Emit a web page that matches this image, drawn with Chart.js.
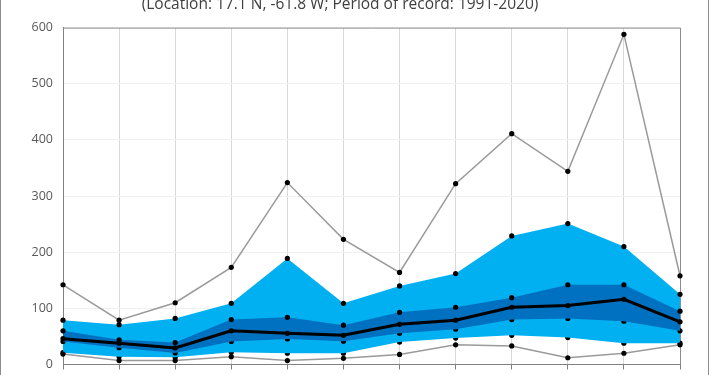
<!DOCTYPE html>
<html>
<head>
<meta charset="utf-8">
<script src="https://cdn.jsdelivr.net/npm/chart.js@4.4.1/dist/chart.umd.min.js"></script>
<style>
  html, body { margin: 0; padding: 0; background: #fff; overflow: hidden; height: 375px; }
  #wrap { position: absolute; left: 0; top: -5px; width: 710px; height: 387px; }
  #frame { position: absolute; left: 0; top: 0; width: 707px; height: 375px;
           border-left: 1px solid #8c8c8c; border-right: 1px solid #8c8c8c; pointer-events: none; }
</style>
</head>
<body>
<div id="wrap"><canvas id="rain-chart"></canvas></div>
<div id="frame"></div>
<script>
/*************************  Data  *************************/
var titleText = '(Location: 17.1 N, -61.8 W; Period of record: 1991-2020)';
var months = ['Jan', 'Feb', 'Mar', 'Apr', 'May', 'Jun', 'Jul', 'Aug', 'Sep', 'Oct', 'Nov', 'Dec'];
var yTicks = [0, 100, 200, 300, 400, 500, 600];

var maxValues    = [142, 79, 110, 173, 324, 223, 164, 322, 411, 344, 588, 158];
var p90Values    = [79, 71, 82, 109, 189, 109, 140, 162, 229, 251, 210, 125];
var p75Values    = [60, 44, 39, 80, 84, 70, 93, 102, 119, 142, 142, 95];
var medianValues = [46, 38, 29.5, 60, 55.5, 52, 71.5, 79, 102, 105, 116, 76];
var p25Values    = [41, 30, 20.5, 41, 45.5, 41.5, 55.5, 63, 80, 82, 77, 60];
var p10Values    = [21, 14, 13, 22, 20, 20, 40, 47, 52, 48, 38, 38];
var minValues    = [18.5, 7, 7, 14, 7, 11, 18, 35, 33, 12, 20, 35];

/*****************************  Chart  *******************************/
var lightBlue = '#00b0f0', darkBlue = '#0070c0', grey = '#9a9a9a';

function series(label, data, extra) {
    var ds = {
        label: label,
        data: data,
        borderColor: 'rgba(0,0,0,0)',
        borderWidth: 0,
        backgroundColor: 'rgba(0,0,0,0)',
        pointRadius: 2.6,
        pointBackgroundColor: '#000',
        pointBorderWidth: 0,
        fill: false,
        tension: 0
    };
    for (var k in extra) ds[k] = extra[k];
    return ds;
}

// draws the top and right edges of the plot area
var plotFrame = {
    id: 'plotFrame',
    beforeDatasetsDraw: function(chart) {
        var a = chart.chartArea, ctx = chart.ctx;
        ctx.save();
        ctx.strokeStyle = '#8c8c8c';
        ctx.lineWidth = 1;
        ctx.beginPath();
        ctx.moveTo(a.left, a.top + 0.5);
        ctx.lineTo(a.right + 0.5, a.top + 0.5);
        ctx.lineTo(a.right + 0.5, a.bottom);
        ctx.stroke();
        ctx.restore();
    }
};

var ctx = document.getElementById('rain-chart');
var rainChart = new Chart(ctx, {
    type: 'line',
    data: {
        labels: months,
        datasets: [
            series('Median', medianValues, {borderColor: '#000', borderWidth: 3, order: 0}),
            series('Maximum', maxValues, {borderColor: grey, borderWidth: 1.5, order: 1}),
            series('Minimum', minValues, {borderColor: grey, borderWidth: 1.5, order: 1}),
            series('75th percentile', p75Values, {fill: {target: 4}, backgroundColor: darkBlue, order: 2}),
            series('25th percentile', p25Values, {order: 2}),
            series('90th percentile', p90Values, {fill: {target: 6}, backgroundColor: lightBlue, order: 3}),
            series('10th percentile', p10Values, {order: 3})
        ]
    },
    options: {
        responsive: true,
        maintainAspectRatio: false,
        animation: false,
        layout: { padding: { left: 0, right: 30, top: 0, bottom: 0 } },
        plugins: {
            legend: { display: false },
            tooltip: { enabled: false },
            title: {
                display: true,
                text: titleText,
                color: '#404040',
                font: { family: 'Open Sans', size: 15.5, weight: 'normal' },
                padding: { top: 0, bottom: 14 }
            }
        },
        scales: {
            x: {
                offset: false,
                border: { display: true, color: '#808080', width: 1 },
                grid: { color: '#d9d9d9', tickColor: '#808080', tickLength: 5, drawTicks: true },
                ticks: { display: false },
                afterFit: function(axis) { axis.height = 3; }
            },
            y: {
                min: 0,
                max: 600,
                border: { display: true, color: '#808080', width: 1 },
                grid: { color: '#f0f0f0', drawTicks: false },
                afterBuildTicks: function(axis) {
                    axis.ticks = yTicks.map(function(v) { return {value: v}; });
                },
                ticks: {
                    color: '#595959',
                    padding: 10,
                    font: { family: 'Open Sans', size: 12.5 }
                },
                afterFit: function(axis) { axis.width = 63; }
            }
        }
    },
    plugins: [plotFrame]
});
</script>
</body>
</html>
